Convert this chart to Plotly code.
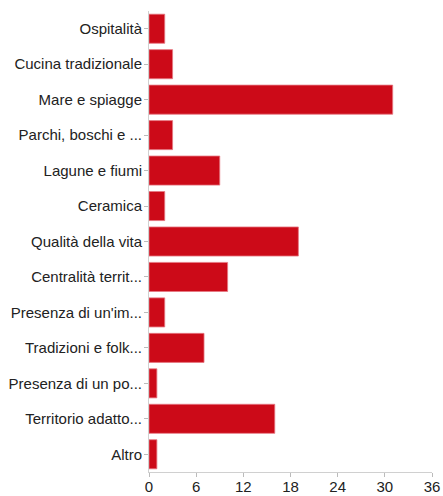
import plotly.graph_objects as go

categories = ["Ospitalità", "Cucina tradizionale", "Mare e spiagge", "Parchi, boschi e ...",
              "Lagune e fiumi", "Ceramica", "Qualità della vita", "Centralità territ...",
              "Presenza di un'im...", "Tradizioni e folk...", "Presenza di un po...",
              "Territorio adatto...", "Altro"]
values = [2, 3, 31, 3, 9, 2, 19, 10, 2, 7, 1, 16, 1]
x_ticks = [0, 6, 12, 18, 24, 30, 36]

fig = go.Figure(go.Bar(
    x=values, y=categories, orientation="h",
    marker=dict(color="#cc0a18", line=dict(color="rgba(230,120,130,0.8)", width=1)),
))

fig.update_layout(
    width=443, height=496,
    margin=dict(l=149, r=11, t=11, b=24),
    plot_bgcolor="white", paper_bgcolor="white",
    bargap=0.18,
    showlegend=False,
    font=dict(family="Liberation Sans, Arial, Helvetica, sans-serif", size=15, color="#222"),
)
fig.update_yaxes(
    autorange="reversed", showline=True, linecolor="#d0d0d0", linewidth=1,
    ticks="outside", ticklen=4, tickcolor="#bbb", showgrid=False, automargin=False,
    ticklabelstandoff=-1,
    tickfont=dict(size=15, color="#222"),
)
fig.update_xaxes(
    range=[0, 36], tickvals=x_ticks, showline=True, linecolor="#d0d0d0", linewidth=1,
    ticks="outside", ticklen=4, tickcolor="#bbb", showgrid=False, zeroline=False,
    automargin=False, ticklabelstandoff=-3,
    tickfont=dict(size=15, color="#222"),
)

fig.write_html(
    "out.html",
    config={"displayModeBar": False},
    post_script="document.body.style.margin='0';document.body.style.padding='0';document.body.style.overflow='hidden';",
)
